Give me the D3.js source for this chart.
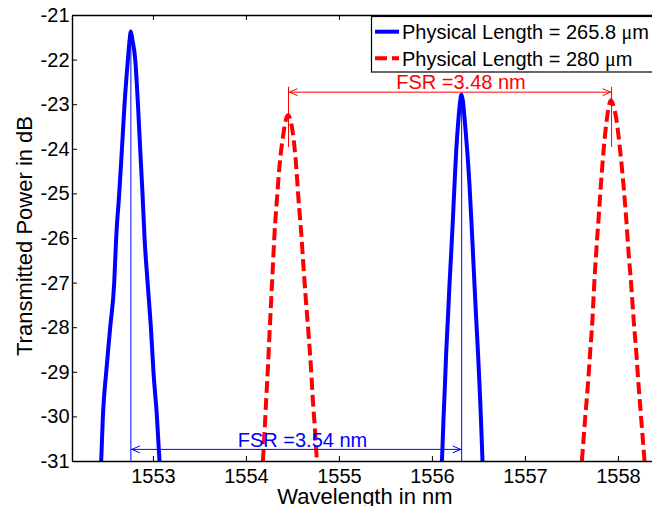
<!DOCTYPE html>
<html>
<head>
<meta charset="utf-8">
<script src="https://cdn.jsdelivr.net/npm/d3@7"></script>
<style>
  html, body { margin: 0; padding: 0; background: #fff; }
  svg { display: block; font-family: Arial, "Liberation Sans", Helvetica, sans-serif; }
</style>
</head>
<body>
<svg id="chart" width="652" height="506"></svg>
<script>
// ---- data (wavelength in nm, transmitted power in dB) ----
const xTicks = [1553, 1554, 1555, 1556, 1557, 1558];
const yTicks = [-31, -30, -29, -28, -27, -26, -25, -24, -23, -22, -21];

const blueSeriesName = "Physical Length = 265.8 ";
const redSeriesName = "Physical Length = 280 ";

// blue peaks (Physical Length = 265.8 um)
const bluePeak1 = [
  [1552.444, -31], [1552.462, -30], [1552.498, -29], [1552.541, -28], [1552.584, -27],
  [1552.605, -26], [1552.638, -25], [1552.667, -24], [1552.695, -23], [1552.731, -22],
  [1552.750, -21.55], [1552.763, -21.37], [1552.779, -21.55], [1552.810, -22],
  [1552.839, -23], [1552.863, -24], [1552.888, -25], [1552.910, -26], [1552.943, -27],
  [1552.978, -28], [1553.006, -29], [1553.043, -30], [1553.071, -31]
];
const bluePeak2 = [
  [1556.108, -31], [1556.125, -30.04], [1556.140, -29.30], [1556.154, -28.55],
  [1556.172, -27.80], [1556.189, -27.05], [1556.208, -26.31], [1556.226, -25.56],
  [1556.243, -24.81], [1556.261, -24.06], [1556.286, -23.32], [1556.303, -22.94],
  [1556.318, -22.79], [1556.334, -22.94], [1556.351, -23.32], [1556.380, -24.06],
  [1556.404, -24.81], [1556.423, -25.56], [1556.441, -26.31], [1556.458, -27.05],
  [1556.476, -27.80], [1556.495, -28.55], [1556.512, -29.30], [1556.527, -30.04],
  [1556.544, -31]
];
// red peaks (Physical Length = 280 um)
const redPeak1 = [
  [1554.183, -31], [1554.200, -30.38], [1554.218, -29.63], [1554.237, -28.89],
  [1554.254, -28.14], [1554.272, -27.39], [1554.290, -26.64], [1554.308, -25.89],
  [1554.333, -25.15], [1554.361, -24.40], [1554.404, -23.65], [1554.440, -23.28],
  [1554.455, -23.24], [1554.470, -23.30], [1554.505, -23.65], [1554.541, -24.40],
  [1554.566, -25.15], [1554.595, -25.89], [1554.619, -26.64], [1554.645, -27.39],
  [1554.673, -28.14], [1554.699, -28.89], [1554.720, -29.63], [1554.745, -30.38],
  [1554.763, -31]
];
const redPeak2 = [
  [1557.613, -31], [1557.648, -30.04], [1557.677, -29.30], [1557.702, -28.55],
  [1557.727, -27.80], [1557.745, -27.05], [1557.767, -26.31], [1557.792, -25.56],
  [1557.817, -24.81], [1557.845, -24.06], [1557.882, -23.32], [1557.910, -22.98],
  [1557.925, -22.91], [1557.942, -22.98], [1557.982, -23.32], [1558.025, -24.06],
  [1558.060, -24.81], [1558.089, -25.56], [1558.114, -26.31], [1558.143, -27.05],
  [1558.168, -27.80], [1558.197, -28.55], [1558.222, -29.30], [1558.250, -30.04],
  [1558.286, -31]
];

// FSR annotations: [from wavelength, to wavelength, arrow level dB]
const fsrRed = { from: 1554.458, to: 1557.932, level: -22.73, label: "FSR =3.48 nm", tickTop: -22.61, tickBottom: -23.96 };
const fsrBlue = { from: 1552.763, to: 1556.320, level: -30.74, label: "FSR =3.54 nm" };

// ---- layout ----
const svg = d3.select("#chart");
const mLeft = 72, mTop = 15, mBottom = 461;
const x = d3.scaleLinear().domain([1552.13, 1558.45]).range([mLeft, mLeft + 6.32 * 93]);
const y = d3.scaleLinear().domain([-31, -21]).range([mBottom, mTop]);
const plotRight = x.range()[1];

svg.append("rect").attr("x", 0).attr("y", 0).attr("width", 652).attr("height", 506).attr("fill", "#fff");

svg.append("defs").append("clipPath").attr("id", "clip")
  .append("rect").attr("x", mLeft).attr("y", mTop).attr("width", plotRight - mLeft).attr("height", mBottom - mTop);

const plot = svg.append("g").attr("clip-path", "url(#clip)");

const line = d3.line().x(d => x(d[0])).y(d => y(d[1])).curve(d3.curveMonotoneX);

// vertical marker lines
[[fsrBlue.from, bluePeak1], [fsrBlue.to, bluePeak2]].forEach(([w, pk]) => {
  const peakVal = d3.max(pk, d => d[1]);
  plot.append("line")
    .attr("x1", x(w)).attr("x2", x(w))
    .attr("y1", y(peakVal)).attr("y2", y(-31))
    .attr("stroke", "#0000ff").attr("stroke-width", 1);
});
[fsrRed.from, fsrRed.to].forEach(w => {
  plot.append("line")
    .attr("x1", x(w)).attr("x2", x(w))
    .attr("y1", y(fsrRed.tickTop)).attr("y2", y(fsrRed.tickBottom))
    .attr("stroke", "#ff0000").attr("stroke-width", 1);
});

// curves
[bluePeak1, bluePeak2].forEach(pk => {
  plot.append("path").datum(pk).attr("d", line)
    .attr("fill", "none").attr("stroke", "#0000ff").attr("stroke-width", 4)
    .attr("stroke-linejoin", "round");
});
[redPeak1, redPeak2].forEach(pk => {
  plot.append("path").datum(pk).attr("d", line)
    .attr("fill", "none").attr("stroke", "#ff0000").attr("stroke-width", 4)
    .attr("stroke-dasharray", "12,5").attr("stroke-linejoin", "round");
});

// double arrows
function doubleArrow(a, color) {
  const x1 = x(a.from), x2 = x(a.to), yy = y(a.level);
  const g = plot.append("g").attr("stroke", color).attr("stroke-width", 1).attr("fill", "none");
  g.append("line").attr("x1", x1).attr("x2", x2).attr("y1", yy).attr("y2", yy);
  const L = 9, H = 3.5;
  g.append("path").attr("d", `M${x1 + L},${yy - H} L${x1 + 1},${yy} L${x1 + L},${yy + H}`);
  g.append("path").attr("d", `M${x2 - L},${yy - H} L${x2 - 1},${yy} L${x2 - L},${yy + H}`);
}
doubleArrow(fsrRed, "#ff0000");
doubleArrow(fsrBlue, "#0000ff");

svg.append("text").attr("x", 461).attr("y", y(fsrRed.level) - 3)
  .attr("text-anchor", "middle").attr("font-size", 20).attr("fill", "#ff0000")
  .text(fsrRed.label);
svg.append("text").attr("x", 302.5).attr("y", y(fsrBlue.level) - 2.8)
  .attr("text-anchor", "middle").attr("font-size", 20).attr("fill", "#0000ff")
  .text(fsrBlue.label);

// axes
const xAxis = d3.axisBottom(x).tickValues(xTicks).tickSize(-5).tickSizeOuter(0).tickPadding(8).tickFormat(d3.format("d"));
const gx = svg.append("g").attr("transform", `translate(0,${mBottom})`).call(xAxis);
const gxt = svg.append("g").attr("transform", `translate(0,${mTop})`)
  .call(d3.axisTop(x).tickValues(xTicks).tickSize(-5).tickSizeOuter(0).tickFormat(""));
const yAxis = d3.axisLeft(y).tickValues(yTicks).tickSize(-5).tickSizeOuter(0).tickPadding(2.5).tickFormat(d3.format("d"));
const gy = svg.append("g").attr("transform", `translate(${mLeft},0)`).call(yAxis);

[gx, gxt, gy].forEach(g => {
  g.selectAll("path.domain").attr("stroke", "#000").attr("stroke-width", 1.4);
  g.selectAll(".tick line").attr("stroke", "#000").attr("stroke-width", 1);
  g.selectAll(".tick text").attr("font-size", 20).attr("fill", "#000")
    .attr("font-family", "Arial, 'Liberation Sans', sans-serif");
});
gy.selectAll(".tick text").text(d => String(d));

// axis labels
svg.append("text").attr("x", 365).attr("y", 504).attr("text-anchor", "middle")
  .attr("font-size", 22).attr("fill", "#000").text("Wavelength in nm");
svg.append("text").attr("transform", "translate(31.5,236) rotate(-90)").attr("text-anchor", "middle")
  .attr("font-size", 22).attr("fill", "#000").text("Transmitted Power in dB");

// legend
const lg = svg.append("g");
lg.append("rect").attr("x", 371.5).attr("y", 16.5).attr("width", 330).attr("height", 55.5)
  .attr("fill", "#fff").attr("stroke", "#000").attr("stroke-width", 1.2);
lg.append("line").attr("x1", 375).attr("x2", 399).attr("y1", 31.7).attr("y2", 31.7)
  .attr("stroke", "#0000ff").attr("stroke-width", 4);
lg.append("line").attr("x1", 375).attr("x2", 399).attr("y1", 58.3).attr("y2", 58.3)
  .attr("stroke", "#ff0000").attr("stroke-width", 4).attr("stroke-dasharray", "12,5");
const t1 = lg.append("text").attr("x", 402).attr("y", 39.3).attr("font-size", 20).attr("fill", "#000");
t1.append("tspan").text(blueSeriesName);
t1.append("tspan").attr("font-family", "'Liberation Serif', 'DejaVu Serif', serif").text("μ");
t1.append("tspan").text("m");
const t2 = lg.append("text").attr("x", 402).attr("y", 66).attr("font-size", 20).attr("fill", "#000");
t2.append("tspan").text(redSeriesName);
t2.append("tspan").attr("font-family", "'Liberation Serif', 'DejaVu Serif', serif").text("μ");
t2.append("tspan").text("m");
</script>
</body>
</html>
